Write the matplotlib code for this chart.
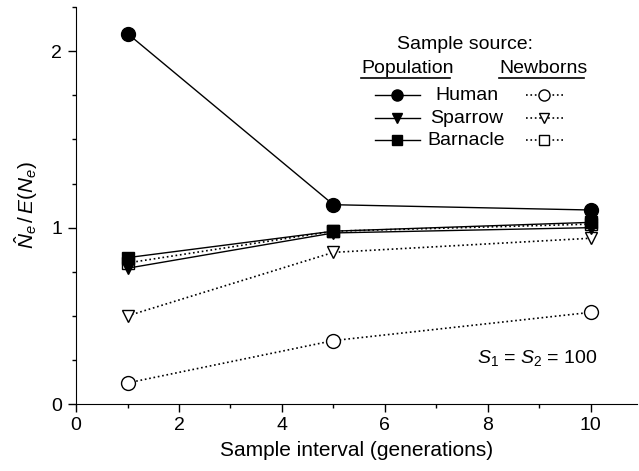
import matplotlib.pyplot as plt
from matplotlib.ticker import MultipleLocator

plt.rcParams['font.family'] = ['Liberation Sans', 'DejaVu Sans']
plt.rcParams['mathtext.fontset'] = 'custom'
plt.rcParams['mathtext.rm'] = 'Liberation Sans'
plt.rcParams['mathtext.it'] = 'Liberation Sans:italic'

# sample intervals (generations)
intervals = [1, 5, 10]

# population samples
human_pop = [2.10, 1.13, 1.10]
sparrow_pop = [0.77, 0.97, 1.00]
barnacle_pop = [0.83, 0.98, 1.03]

# newborn samples
human_new = [0.12, 0.36, 0.52]
sparrow_new = [0.50, 0.86, 0.94]
barnacle_new = [0.80, 0.98, 1.02]

species = ['Human', 'Sparrow', 'Barnacle']
markers = ['o', 'v', 's']
msizes = [10, 9, 8.5]

fig, ax = plt.subplots(figsize=(6.39, 4.71), dpi=100)
fig.subplots_adjust(left=0.119, right=0.997, top=0.985, bottom=0.142)

pop = [human_pop, sparrow_pop, barnacle_pop]
new = [human_new, sparrow_new, barnacle_new]

for vals, m, ms in zip(new, markers, msizes):
    ax.plot(intervals, vals, ls=':', color='black', lw=1.2, marker=m, ms=ms,
            mfc='white', mec='black', mew=1.0, zorder=2)
for vals, m, ms in zip(pop, markers, msizes):
    ax.plot(intervals, vals, ls='-', color='black', lw=1.0, marker=m, ms=ms,
            mfc='black', mec='black', zorder=3)

ax.set_xlim(0, 10.9)
ax.set_ylim(0, 2.25)
ax.xaxis.set_major_locator(MultipleLocator(2))
ax.xaxis.set_minor_locator(MultipleLocator(1))
ax.yaxis.set_major_locator(MultipleLocator(1))
ax.yaxis.set_minor_locator(MultipleLocator(0.25))
ax.tick_params(which='major', length=6, labelsize=14, width=1)
ax.tick_params(which='minor', length=3, width=1)
ax.tick_params(axis='y', pad=4)
for s in ['top', 'right']:
    ax.spines[s].set_visible(False)

ax.set_xlabel('Sample interval (generations)', fontsize=15, labelpad=5)
ax.set_ylabel(r'$\hat{N}_e\,/\,E(N_e)$', fontsize=15, labelpad=8)

# hand-made legend (axes fraction)
tr = ax.transAxes
ax.text(0.694, 0.905, 'Sample source:', transform=tr, ha='center', va='center', fontsize=14)
ax.text(0.508, 0.846, 'Population', transform=tr, ha='left', va='center', fontsize=14)
ax.text(0.754, 0.846, 'Newborns', transform=tr, ha='left', va='center', fontsize=14)
ax.plot([0.508, 0.667], [0.822, 0.822], transform=tr, color='black', lw=1.2)
ax.plot([0.754, 0.906], [0.822, 0.822], transform=tr, color='black', lw=1.2)

rows = [0.778, 0.720, 0.665]
leg_ms = [8, 7.5, 7]
for name, m, ms, yy in zip(species, markers, leg_ms, rows):
    ax.plot([0.533, 0.613], [yy, yy], transform=tr, color='black', lw=1)
    ax.plot([0.572], [yy], transform=tr, marker=m, ms=ms, color='black', ls='none')
    ax.text(0.696, yy, name, transform=tr, ha='center', va='center', fontsize=14)
    ax.plot([0.802, 0.869], [yy, yy], transform=tr, color='black', lw=1.2, ls=':')
    ax.plot([0.834], [yy], transform=tr, marker=m, ms=ms, mfc='white', mec='black',
            ls='none')

ax.text(0.929, 0.116, r'$S_1$ = $S_2$ = 100', transform=tr, ha='right', va='center',
        fontsize=14)

plt.savefig('out.png')
